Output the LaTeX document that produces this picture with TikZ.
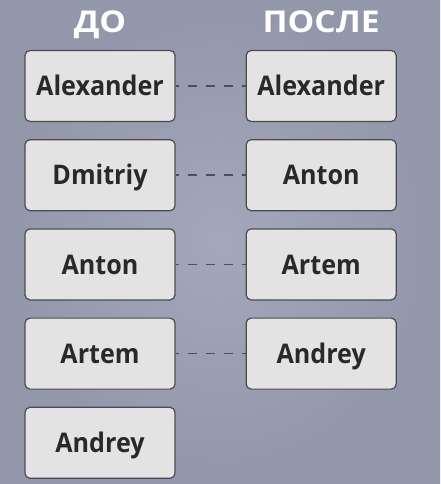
\documentclass[tikz,border=0pt]{standalone}
\usepackage{fontspec}
\setmainfont{Open Sans}
\newfontfamily\headfont[FakeStretch=1.12]{Open Sans}
\newfontfamily\namefont[FakeStretch=0.93]{Open Sans}
\usetikzlibrary{positioning}
\definecolor{bgcol}{HTML}{9EA2B7}
\definecolor{boxfill}{HTML}{E3E3E3}
\definecolor{boxline}{HTML}{4A4B52}
\definecolor{namecol}{HTML}{29292B}
\definecolor{linkcol}{HTML}{4A4E60}

\begin{document}
\begin{tikzpicture}[x=1pt,y=-1pt,node distance=17pt and 70pt,
  namebox/.style={draw=boxline,line width=1.2pt,fill=boxfill,rounded corners=5pt,
    minimum width=150pt,minimum height=71pt,inner sep=0pt,text height=19.5pt,text depth=0pt,
    font=\namefont\fontsize{27}{30}\selectfont\bfseries,text=namecol},
  headline/.style={font=\headfont\fontsize{30}{34}\selectfont\bfseries,text=white,
    inner sep=0pt,text depth=0pt},
  link/.style={draw=linkcol,line width=1.5pt,dash pattern=on 9pt off 9pt,dash phase=6pt}]
\shade[inner color=bgcol!94!white,outer color=bgcol!93!black] (0,0) rectangle (440,484);
\useasboundingbox (0,0) rectangle (440,484);
% left column: before
\node [namebox] (L1) at (100,86) {Alexander};
\node [namebox] [below=of L1] (L2) {Dmitriy};
\node [namebox] [below=of L2] (L3) {Anton};
\node [namebox] [below=of L3] (L4) {Artem};
\node [namebox] [below=of L4] (L5) {Andrey};
% right column: after
\node [namebox] [right=of L1] (R1) {Alexander};
\node [namebox] [right=of L2] (R2) {Anton};
\node [namebox] [right=of L3] (R3) {Artem};
\node [namebox] [right=of L4] (R4) {Andrey};
\node [headline] [above=17pt of L1] (before) {ДО};
\node [headline] [above=17pt of R1] (after) {ПОСЛЕ};
\foreach \i in {1,...,4}
  \draw [link] (L\i.east) -- (R\i.west);
\end{tikzpicture}
\end{document}
